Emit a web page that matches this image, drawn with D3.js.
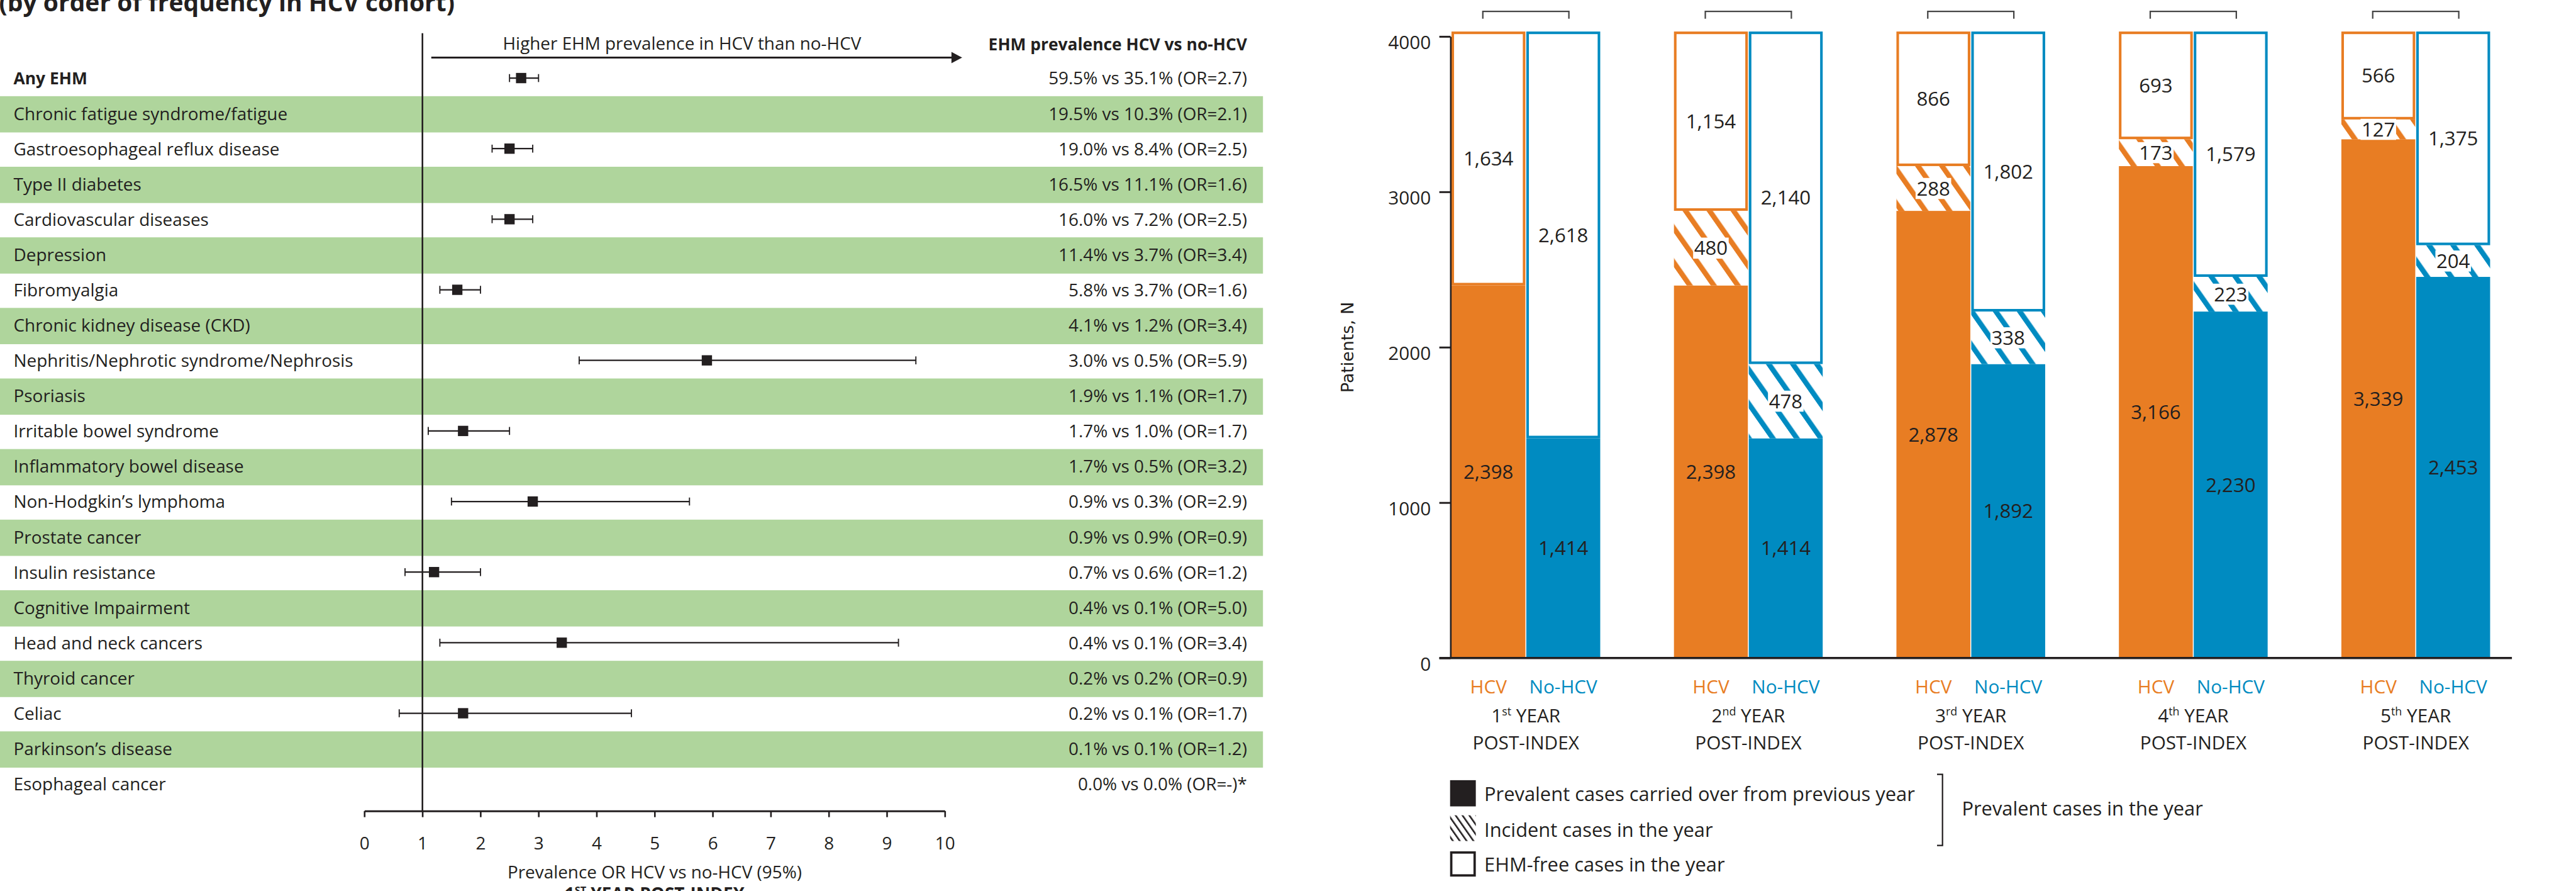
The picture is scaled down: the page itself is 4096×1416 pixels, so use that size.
<!DOCTYPE html>
<html>
<head>
<meta charset="utf-8">
<script src="https://cdn.jsdelivr.net/npm/d3@7"></script>
<style>
  html, body { margin: 0; padding: 0; background: #fff; overflow: hidden; }
</style>
</head>
<body>
<svg id="fig" width="4096" height="1416"></svg>
<script>
// ---------------- Forest plot data (1st year post-index) ----------------
const conditions = [
  "Any EHM",
  "Chronic fatigue syndrome/fatigue",
  "Gastroesophageal reflux disease",
  "Type II diabetes",
  "Cardiovascular diseases",
  "Depression",
  "Fibromyalgia",
  "Chronic kidney disease (CKD)",
  "Nephritis/Nephrotic syndrome/Nephrosis",
  "Psoriasis",
  "Irritable bowel syndrome",
  "Inflammatory bowel disease",
  "Non-Hodgkin\u2019s lymphoma",
  "Prostate cancer",
  "Insulin resistance",
  "Cognitive Impairment",
  "Head and neck cancers",
  "Thyroid cancer",
  "Celiac",
  "Parkinson\u2019s disease",
  "Esophageal cancer"
];
const prevalenceHCV   = [59.5, 19.5, 19.0, 16.5, 16.0, 11.4, 5.8, 4.1, 3.0, 1.9, 1.7, 1.7, 0.9, 0.9, 0.7, 0.4, 0.4, 0.2, 0.2, 0.1, 0.0];
const prevalenceNoHCV = [35.1, 10.3, 8.4, 11.1, 7.2, 3.7, 3.7, 1.2, 0.5, 1.1, 1.0, 0.5, 0.3, 0.9, 0.6, 0.1, 0.1, 0.2, 0.1, 0.1, 0.0];
const oddsRatio       = [2.7, 2.1, 2.5, 1.6, 2.5, 3.4, 1.6, 3.4, 5.9, 1.7, 1.7, 3.2, 2.9, 0.9, 1.2, 5.0, 3.4, 0.9, 1.7, 1.2, null];
// 95% CI bounds; only the unshaded rows carry a plotted estimate
const ciLow  = [2.5, null, 2.2, null, 2.2, null, 1.3, null, 3.7, null, 1.1, null, 1.5, null, 0.7, null, 1.3, null, 0.6, null, null];
const ciHigh = [3.0, null, 2.9, null, 2.9, null, 2.0, null, 9.5, null, 2.5, null, 5.6, null, 2.0, null, 9.2, null, 4.6, null, null];
const orTicks = [0, 1, 2, 3, 4, 5, 6, 7, 8, 9, 10];

// ---------------- Stacked bar data (patients per year post-index) ----------------
const yearNumbers  = ["1", "2", "3", "4", "5"];
const yearSuffixes = ["st", "nd", "rd", "th", "th"];
const cohorts = ["HCV", "No-HCV"];
const hcvCarried    = [2398, 2398, 2878, 3166, 3339];
const hcvIncident   = [0, 480, 288, 173, 127];
const hcvFree       = [1634, 1154, 866, 693, 566];
const noHcvCarried  = [1414, 1414, 1892, 2230, 2453];
const noHcvIncident = [0, 478, 338, 223, 204];
const noHcvFree     = [2618, 2140, 1802, 1579, 1375];
const patientTicks  = [0, 1000, 2000, 3000, 4000];
const legendItems = [
  "Prevalent cases carried over from previous year",
  "Incident cases in the year",
  "EHM-free cases in the year"
];

// ---------------- Styling ----------------
const INK = "#231f20";
const ORANGE = "#e87d23";
const BLUE = "#008bc1";
const GREEN = "#afd59c";
const FONT = "'Open Sans', 'Liberation Sans', Arial, sans-serif";
const K = 4096 / 5507;

const svg = d3.select("#fig");
const defs = svg.append("defs");
const root = svg.append("g")
  .attr("transform", `scale(${K})`)
  .attr("font-family", FONT)
  .attr("fill", INK);

function hatch(id, color, period, stripe) {
  const p = defs.append("pattern")
    .attr("id", id)
    .attr("patternUnits", "userSpaceOnUse")
    .attr("width", period).attr("height", period)
    .attr("patternTransform", "rotate(-35)");
  p.append("rect").attr("width", period).attr("height", period).attr("fill", "#fff");
  p.append("rect").attr("width", stripe).attr("height", period).attr("fill", color);
}
hatch("hatch-HCV", ORANGE, 42, 11);
hatch("hatch-No-HCV", BLUE, 42, 11);
hatch("hatch-ink", INK, 12, 3.5);

// =====================================================================
// Left panel: forest plot
// =====================================================================
const xOR = d3.scaleLinear().domain([0, 10]).range([779, 2020]);
const yRow = d3.scaleBand().domain(conditions).range([130.1, 130.1 + 75.4 * conditions.length]);
const rowMid = d => yRow(d) + yRow.bandwidth() / 2;

const forest = root.append("g");

// alternating shaded rows
forest.selectAll("rect.band")
  .data(conditions.filter((d, i) => i % 2 === 1))
  .join("rect")
  .attr("class", "band")
  .attr("x", 0).attr("width", 2700)
  .attr("y", d => yRow(d)).attr("height", 77.5)
  .attr("fill", GREEN);

// partial panel heading
forest.append("text")
  .attr("x", -2).attr("y", 24)
  .attr("font-size", 52.5).attr("font-weight", 700)
  .text("(by order of frequency in HCV cohort)");

// direction arrow
forest.append("text")
  .attr("x", 1458).attr("y", 106)
  .attr("text-anchor", "middle").attr("font-size", 37.5)
  .text("Higher EHM prevalence in HCV than no-HCV");
forest.append("line")
  .attr("x1", 922).attr("x2", 2040).attr("y1", 123).attr("y2", 123)
  .attr("stroke", INK).attr("stroke-width", 4);
forest.append("path")
  .attr("d", "M2034,111 L2057,123 L2034,135 Z")
  .attr("fill", INK);

// column heading
forest.append("text")
  .attr("x", 2666).attr("y", 107)
  .attr("text-anchor", "end").attr("font-size", 35.5).attr("font-weight", 700)
  .text("EHM prevalence HCV vs no-HCV");

// line of no difference (OR = 1)
forest.append("line")
  .attr("x1", xOR(1)).attr("x2", xOR(1))
  .attr("y1", 71).attr("y2", 1733)
  .attr("stroke", INK).attr("stroke-width", 3.5);

// OR axis
const orAxis = forest.append("g")
  .attr("transform", "translate(0,1733)")
  .call(d3.axisBottom(xOR).tickValues(orTicks).tickFormat(d3.format("d"))
    .tickSizeInner(13).tickSizeOuter(0).tickPadding(43));
orAxis.select(".domain").attr("stroke", INK).attr("stroke-width", 4);
orAxis.selectAll(".tick line").attr("stroke", INK).attr("stroke-width", 3.5);
orAxis.selectAll(".tick text")
  .attr("fill", INK).attr("font-size", 37.5).attr("font-family", FONT);

forest.append("text")
  .attr("x", xOR(5)).attr("y", 1877)
  .attr("text-anchor", "middle").attr("font-size", 37.5)
  .text("Prevalence OR HCV vs no-HCV (95%)");

const period = forest.append("text")
  .attr("x", xOR(5)).attr("y", 1924)
  .attr("text-anchor", "middle").attr("font-size", 37.5).attr("font-weight", 700);
period.append("tspan").text("1");
period.append("tspan").attr("font-size", 22).attr("dy", -13).text("ST");
period.append("tspan").attr("dy", 13).text(" YEAR POST-INDEX");

// estimates with confidence intervals
const estimates = conditions
  .map((name, i) => ({ name, or: oddsRatio[i], lo: ciLow[i], hi: ciHigh[i] }))
  .filter(d => d.lo != null);

const est = forest.selectAll("g.est").data(estimates).join("g").attr("class", "est");
est.append("line")
  .attr("x1", d => xOR(d.lo)).attr("x2", d => xOR(d.hi))
  .attr("y1", d => rowMid(d.name) - 1).attr("y2", d => rowMid(d.name) - 1)
  .attr("stroke", INK).attr("stroke-width", 3);
est.append("line")
  .attr("x1", d => xOR(d.lo)).attr("x2", d => xOR(d.lo))
  .attr("y1", d => rowMid(d.name) - 9.5).attr("y2", d => rowMid(d.name) + 7.5)
  .attr("stroke", INK).attr("stroke-width", 2.5);
est.append("line")
  .attr("x1", d => xOR(d.hi)).attr("x2", d => xOR(d.hi))
  .attr("y1", d => rowMid(d.name) - 9.5).attr("y2", d => rowMid(d.name) + 7.5)
  .attr("stroke", INK).attr("stroke-width", 2.5);
est.append("rect")
  .attr("x", d => xOR(d.or) - 11).attr("width", 22)
  .attr("y", d => rowMid(d.name) - 12).attr("height", 22)
  .attr("fill", INK);

// row labels
forest.selectAll("text.cond")
  .data(conditions)
  .join("text")
  .attr("class", "cond")
  .attr("x", 29).attr("y", d => rowMid(d) + 13)
  .attr("font-size", d => d === "Any EHM" ? 35.5 : 37.5)
  .attr("font-weight", d => d === "Any EHM" ? 700 : 400)
  .text(d => d);

// prevalence / OR column
const f1 = d3.format(".1f");
forest.selectAll("text.prev")
  .data(conditions)
  .join("text")
  .attr("class", "prev")
  .attr("x", 2666).attr("y", d => rowMid(d) + 13)
  .attr("text-anchor", "end").attr("font-size", 37.5)
  .text((d, i) => `${f1(prevalenceHCV[i])}% vs ${f1(prevalenceNoHCV[i])}% ` +
    (oddsRatio[i] == null ? "(OR=-)*" : `(OR=${f1(oddsRatio[i])})`));

// =====================================================================
// Right panel: stacked bars
// =====================================================================
const yN = d3.scaleLinear().domain([0, 4000]).range([1406, 78]);
const groupW = 318, step = 475.6, x0 = 3103;
const xYear = d3.scaleBand().domain(yearNumbers)
  .range([x0, x0 + 4 * step + groupW])
  .paddingInner(1 - groupW / step).paddingOuter(0);
const xCohort = d3.scaleBand().domain(cohorts).range([0, groupW]).paddingInner(0.0126);
const cohortColor = d3.scaleOrdinal().domain(cohorts).range([ORANGE, BLUE]);

const table = yearNumbers.flatMap((yr, i) => [
  { year: yr, cohort: "HCV", carried: hcvCarried[i], incident: hcvIncident[i], free: hcvFree[i] },
  { year: yr, cohort: "No-HCV", carried: noHcvCarried[i], incident: noHcvIncident[i], free: noHcvFree[i] }
]);
const stack = d3.stack().keys(["carried", "incident", "free"])(table);

const bars = root.append("g");
const barX = d => xYear(d.data.year) + xCohort(d.data.cohort);
const bw = xCohort.bandwidth();

stack.forEach(layer => {
  const g = bars.append("g");
  layer.forEach(seg => {
    const v = seg[1] - seg[0];
    if (v <= 0) return;
    const x = barX(seg), yTop = yN(seg[1]), yBot = yN(seg[0]);
    const col = cohortColor(seg.data.cohort);
    if (layer.key === "carried") {
      g.append("rect").attr("x", x).attr("y", yTop).attr("width", bw).attr("height", yBot - yTop)
        .attr("fill", col);
    } else if (layer.key === "incident") {
      g.append("rect").attr("x", x).attr("y", yTop).attr("width", bw).attr("height", yBot - yTop)
        .attr("fill", `url(#hatch-${seg.data.cohort})`);
    } else {
      const sw = 5.5;
      g.append("rect").attr("x", x + sw / 2).attr("y", yTop + sw / 2)
        .attr("width", bw - sw).attr("height", yBot - yTop - sw)
        .attr("fill", "#fff").attr("stroke", col).attr("stroke-width", sw);
    }
  });
});

// segment value labels
const fmt = d3.format(",");
stack.forEach(layer => {
  layer.forEach(seg => {
    const v = seg[1] - seg[0];
    if (v <= 0) return;
    const cx = barX(seg) + bw / 2;
    const cy = (yN(seg[0]) + yN(seg[1])) / 2;
    const bg = bars.append("rect");
    const t = bars.append("text")
      .attr("x", cx).attr("y", cy + 15)
      .attr("text-anchor", "middle").attr("font-size", 42)
      .text(fmt(v));
    if (layer.key === "incident") {
      const w = t.node().getComputedTextLength() + 4;
      bg.attr("x", cx - w / 2).attr("y", cy - 22.5).attr("width", w).attr("height", 45).attr("fill", "#fff");
    } else {
      bg.remove();
    }
  });
});

// comparison brackets over each year pair
root.append("g").selectAll("path")
  .data(yearNumbers)
  .join("path")
  .attr("d", d => {
    const c = xYear(d) + groupW / 2;
    return `M${c - 92},40 V24.5 H${c + 92} V40`;
  })
  .attr("fill", "none").attr("stroke", "#444").attr("stroke-width", 3);

// y axis
const yAxisX = 3101;
const yAx = root.append("g")
  .attr("transform", `translate(${yAxisX},0)`)
  .call(d3.axisLeft(yN).tickValues(patientTicks).tickFormat(d3.format("d"))
    .tickSizeInner(24).tickSizeOuter(0).tickPadding(18));
yAx.select(".domain").attr("stroke", INK).attr("stroke-width", 3.5);
yAx.selectAll(".tick line").attr("stroke", INK).attr("stroke-width", 4);
yAx.selectAll(".tick text")
  .attr("fill", INK).attr("font-size", 40).attr("font-family", FONT)
  .attr("dy", null).attr("y", 27);

root.append("text")
  .attr("transform", `translate(2893,${yN(2000)}) rotate(-90)`)
  .attr("text-anchor", "middle")
  .attr("font-family", "'DejaVu Sans', Verdana, sans-serif")
  .attr("font-size", 36)
  .text("Patients, N");

// baseline
root.append("line")
  .attr("x1", yAxisX - 24).attr("x2", 5370)
  .attr("y1", yN(0)).attr("y2", yN(0))
  .attr("stroke", INK).attr("stroke-width", 5);

// cohort and year labels
const cats = root.append("g");
yearNumbers.forEach((yr, i) => {
  cohorts.forEach(c => {
    cats.append("text")
      .attr("x", xYear(yr) + xCohort(c) + bw / 2).attr("y", 1481.5)
      .attr("text-anchor", "middle").attr("font-size", 40)
      .attr("fill", cohortColor(c))
      .text(c);
  });
  const cx = xYear(yr) + groupW / 2;
  const t = cats.append("text")
    .attr("x", cx).attr("y", 1543.6)
    .attr("text-anchor", "middle").attr("font-size", 40);
  t.append("tspan").text(yr);
  t.append("tspan").attr("font-size", 24).attr("dy", -15).text(yearSuffixes[i]);
  t.append("tspan").attr("dy", 15).text(" YEAR");
  cats.append("text")
    .attr("x", cx).attr("y", 1601.6)
    .attr("text-anchor", "middle").attr("font-size", 40)
    .text("POST-INDEX");
});

// legend
const leg = root.append("g");
leg.append("rect").attr("x", 3100).attr("y", 1667).attr("width", 55).attr("height", 56).attr("fill", INK);
leg.append("rect").attr("x", 3100).attr("y", 1742).attr("width", 55).attr("height", 55).attr("fill", "url(#hatch-ink)");
leg.append("rect").attr("x", 3102.5).attr("y", 1821.5).attr("width", 50).attr("height", 49)
  .attr("fill", "#fff").attr("stroke", INK).attr("stroke-width", 5);
const legY = [1712, 1788, 1862.4];
leg.selectAll("text.item")
  .data(legendItems)
  .join("text")
  .attr("class", "item")
  .attr("x", 3173).attr("y", (d, i) => legY[i])
  .attr("font-size", 41.5)
  .text(d => d);
leg.append("path")
  .attr("d", "M4141,1654.6 H4152.7 V1806.5 H4141")
  .attr("fill", "none").attr("stroke", INK).attr("stroke-width", 3);
leg.append("text")
  .attr("x", 4194).attr("y", 1743)
  .attr("font-size", 41.5)
  .text("Prevalent cases in the year");
</script>
</body>
</html>
